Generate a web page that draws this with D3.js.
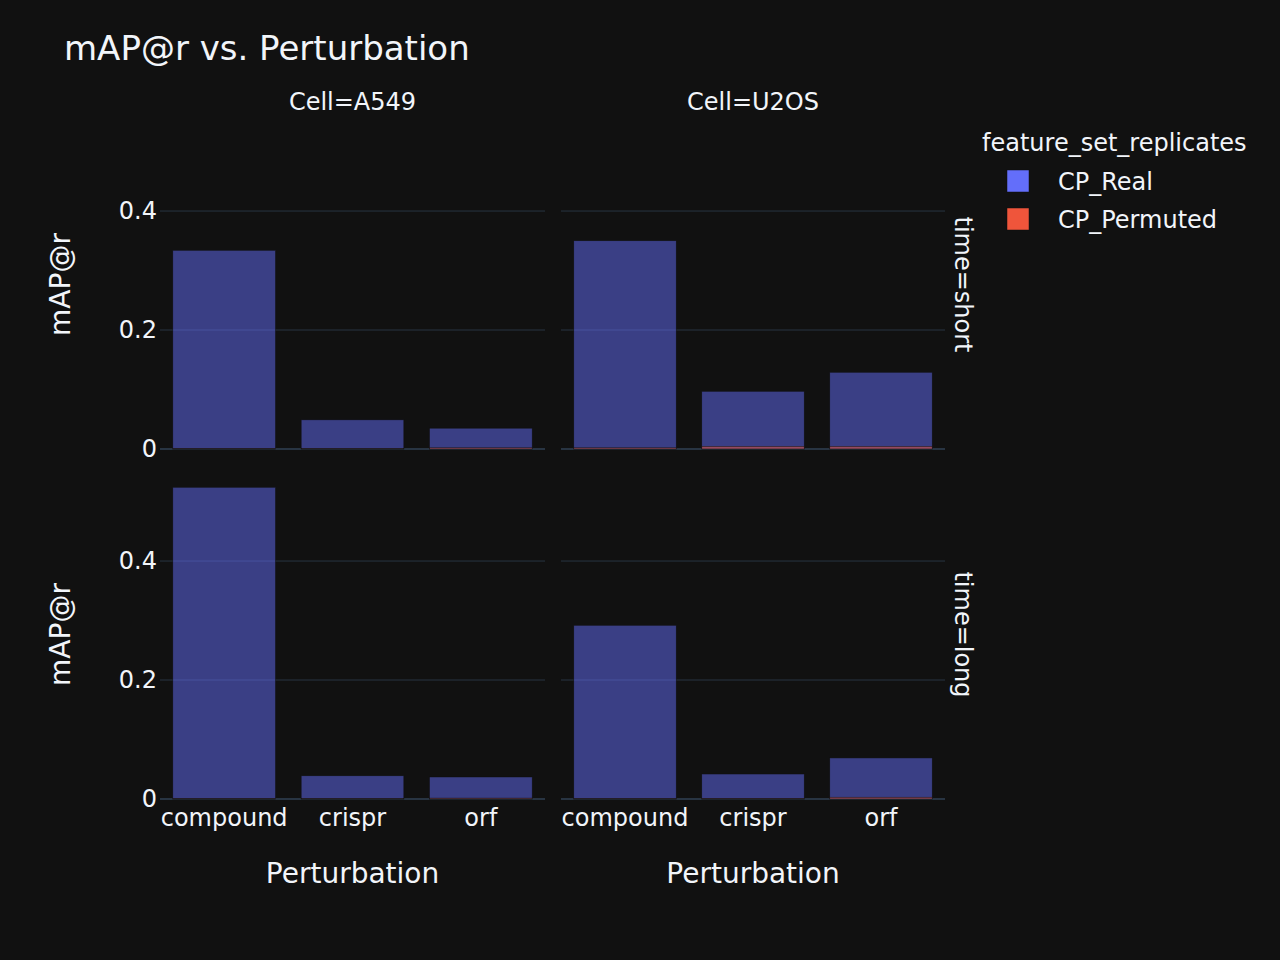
<!DOCTYPE html>
<html>
<head>
<meta charset="utf-8">
<script src="https://cdn.jsdelivr.net/npm/d3@7"></script>
<style>
    html, body { margin: 0; padding: 0; background: #111111; }
    svg text { font-family: "DejaVu Sans", Verdana, sans-serif; fill: #f2f5fa; }
</style>
</head>
<body>
<svg id="chart" width="1280" height="960"></svg>
<script>
var cells = ["A549", "U2OS"];
var times = ["short", "long"];
var perturbations = ["compound", "crispr", "orf"];
var seriesNames = ["CP_Real", "CP_Permuted"];
var seriesColors = ["#636efa", "#EF553B"];
var yTicks = [0, 0.2, 0.4];

// mAP@r per perturbation, one array per facet
var realA549Short = [0.334, 0.049, 0.035];
var realU2OSShort = [0.350, 0.097, 0.129];
var realA549Long = [0.524, 0.039, 0.037];
var realU2OSLong = [0.292, 0.042, 0.069];
var permA549Short = [0.0008, 0.0008, 0.002];
var permU2OSShort = [0.002, 0.0045, 0.0045];
var permA549Long = [0.0008, 0.0008, 0.0015];
var permU2OSLong = [0.0008, 0.001, 0.003];

var facetData = {
    "A549|short": [realA549Short, permA549Short],
    "U2OS|short": [realU2OSShort, permU2OSShort],
    "A549|long": [realA549Long, permA549Long],
    "U2OS|long": [realU2OSLong, permU2OSLong]
};

var svg = d3.select("#chart");
var colX = [[160, 545], [561, 945]];
var rowY = [[120, 449], [470, 799]];
var yMax = 0.553;

svg.append("rect").attr("width", 1280).attr("height", 960).attr("fill", "#111111");

svg.append("text")
    .attr("x", 64).attr("y", 60)
    .style("font-size", "34px")
    .text("mAP@r vs. Perturbation");

times.forEach(function (time, r) {
    cells.forEach(function (cell, c) {
        var x = d3.scaleBand()
            .domain(perturbations)
            .range(colX[c])
            .paddingInner(0.2)
            .paddingOuter(0.1);
        var y = d3.scaleLinear()
            .domain([0, yMax])
            .range([rowY[r][1], rowY[r][0]]);

        var g = svg.append("g");

        // grid lines
        g.selectAll("line.grid")
            .data(yTicks.filter(function (t) { return t > 0; }))
            .enter().append("line")
            .attr("x1", colX[c][0]).attr("x2", colX[c][1])
            .attr("y1", function (t) { return y(t); })
            .attr("y2", function (t) { return y(t); })
            .attr("stroke", "#283442").attr("stroke-width", 1);

        // zero line
        g.append("line")
            .attr("x1", colX[c][0]).attr("x2", colX[c][1])
            .attr("y1", y(0)).attr("y2", y(0))
            .attr("stroke", "#283442").attr("stroke-width", 2);

        var series = facetData[cell + "|" + time];
        series.forEach(function (values, s) {
            g.selectAll("rect.s" + s)
                .data(values)
                .enter().append("rect")
                .attr("x", function (d, i) { return x(perturbations[i]); })
                .attr("width", x.bandwidth())
                .attr("y", function (d) { return y(d); })
                .attr("height", function (d) { return y(0) - y(d); })
                .attr("fill", seriesColors[s])
                .attr("fill-opacity", 0.5)
                .attr("stroke", "#111111")
                .attr("stroke-width", 0.5);
        });

        // y tick labels only on the first column
        if (c === 0) {
            var yAxis = d3.axisLeft(y).tickValues(yTicks).tickSize(0).tickPadding(3)
                .tickFormat(function (d) { return d === 0 ? "0" : d3.format(".1f")(d); });
            var ya = g.append("g")
                .attr("transform", "translate(" + colX[c][0] + ",0)")
                .call(yAxis);
            ya.select(".domain").remove();
            ya.selectAll("text")
                .style("font-size", "24px")
                .attr("fill", "#f2f5fa");

            g.append("text")
                .attr("transform", "translate(70," + (rowY[r][0] + rowY[r][1]) / 2 + ") rotate(-90)")
                .attr("text-anchor", "middle")
                .style("font-size", "28px")
                .text("mAP@r");
        }

        // x tick labels and title on the bottom row
        if (r === times.length - 1) {
            var xAxis = d3.axisBottom(x).tickSize(0).tickPadding(10);
            var xa = g.append("g")
                .attr("transform", "translate(0," + rowY[r][1] + ")")
                .call(xAxis);
            xa.select(".domain").remove();
            xa.selectAll("text")
                .style("font-size", "24px")
                .attr("fill", "#f2f5fa");

            g.append("text")
                .attr("x", (colX[c][0] + colX[c][1]) / 2)
                .attr("y", 883)
                .attr("text-anchor", "middle")
                .style("font-size", "28px")
                .text("Perturbation");
        }

        if (r === 0) {
            g.append("text")
                .attr("x", (colX[c][0] + colX[c][1]) / 2)
                .attr("y", 110)
                .attr("text-anchor", "middle")
                .style("font-size", "24px")
                .text("Cell=" + cell);
        }

        if (c === cells.length - 1) {
            g.append("text")
                .attr("transform", "translate(955," + (rowY[r][0] + rowY[r][1]) / 2 + ") rotate(90)")
                .attr("text-anchor", "middle")
                .style("font-size", "24px")
                .text("time=" + time);
        }
    });
});

// legend
var legend = svg.append("g");
legend.append("text")
    .attr("x", 982).attr("y", 151)
    .style("font-size", "24px")
    .text("feature_set_replicates");

var items = legend.selectAll("g.item")
    .data(seriesNames)
    .enter().append("g")
    .attr("transform", function (d, i) { return "translate(0," + (181 + i * 38) + ")"; });

items.append("rect")
    .attr("x", 1007).attr("y", -11)
    .attr("width", 22).attr("height", 22)
    .attr("fill", function (d, i) { return seriesColors[i]; })
    .attr("stroke", "#111111").attr("stroke-width", 0.5);

items.append("text")
    .attr("x", 1058).attr("y", 9)
    .style("font-size", "24px")
    .text(function (d) { return d; });
</script>
</body>
</html>
